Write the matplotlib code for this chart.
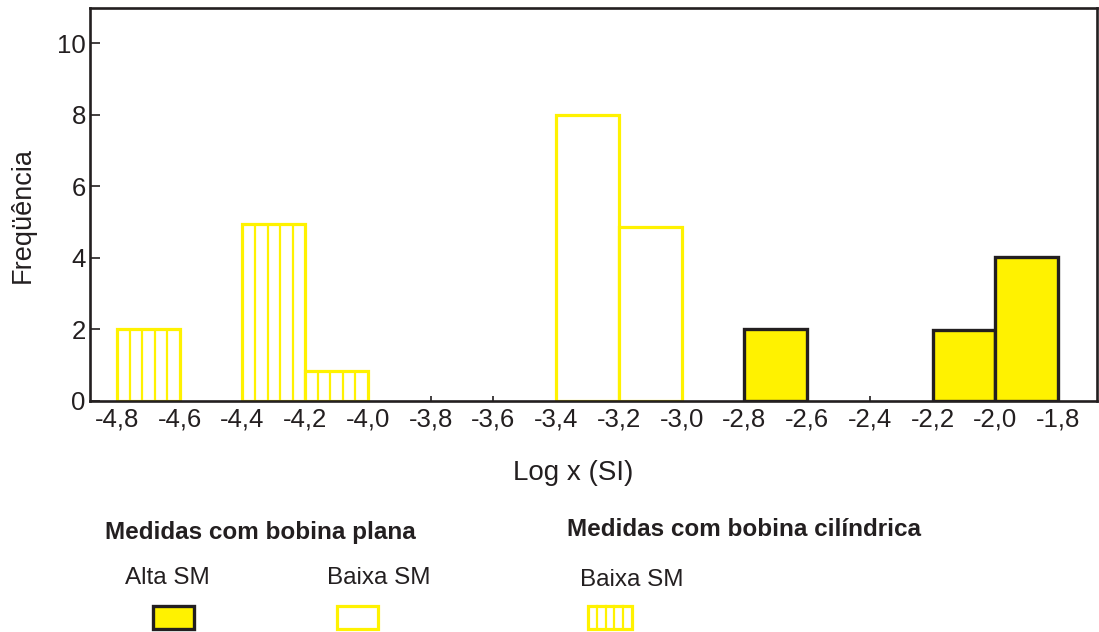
# %% Bibliotecas utilizadas ---------------------------------------

import numpy as np
import matplotlib
matplotlib.use('Agg')
import matplotlib.pyplot as plt
from matplotlib.patches import Rectangle
from matplotlib.lines import Line2D

# %% Dados lidos do histograma ---------------------------------------

largura_classe = 0.2

# bobina cilindrica - baixa SM (barras hachuradas)
cil_baixa_x = [-4.8, -4.4, -4.2]
cil_baixa_f = [2.0, 4.95, 0.85]

# bobina plana - baixa SM (barras vazadas)
plana_baixa_x = [-3.4, -3.2]
plana_baixa_f = [8.0, 4.87]

# bobina plana - alta SM (barras cheias)
plana_alta_x = [-2.8, -2.2, -2.0]
plana_alta_f = [2.02, 1.97, 4.03]

xticks_pos = [-4.8, -4.6, -4.4, -4.2, -4.0, -3.8, -3.6, -3.4,
              -3.2, -3.0, -2.8, -2.6, -2.4, -2.2, -2.0, -1.8]
xticks_txt = ['-4,8', '-4,6', '-4,4', '-4,2', '-4,0', '-3,8', '-3,6', '-3,4',
              '-3,2', '-3,0', '-2,8', '-2,6', '-2,4', '-2,2', '-2,0', '-1,8']
yticks_pos = [0, 2, 4, 6, 8, 10]

# %% Estilo ---------------------------------------

amarelo = '#FFF200'
escuro = '#231F20'
plt.rcParams['font.family'] = ['Liberation Sans', 'DejaVu Sans']

W, H = 1099, 632
fig = plt.figure(figsize=(W/100, H/100), dpi=100)
ax = fig.add_axes([90/W, 1-401/H, (1097-90)/W, (401-8)/H])

# %% Barras ---------------------------------------

# alta SM: preenchidas com borda escura
ax.bar(plana_alta_x, plana_alta_f, width=largura_classe, align='edge',
       color=amarelo, edgecolor=escuro, linewidth=2.4, zorder=3)

# baixa SM plana: so contorno amarelo
ax.bar(plana_baixa_x, plana_baixa_f, width=largura_classe, align='edge',
       facecolor='white', edgecolor=amarelo, linewidth=2.3, zorder=3)

# baixa SM cilindrica: contorno + listras verticais
ax.bar(cil_baixa_x, cil_baixa_f, width=largura_classe, align='edge',
       facecolor='white', edgecolor=amarelo, linewidth=2.3, zorder=3)
for x0, f in zip(cil_baixa_x, cil_baixa_f):
    for k in range(1, 5):
        ax.vlines(x0 + largura_classe*k/5, 0, f, color=amarelo,
                  linewidth=1.6, zorder=3)

# %% Eixos ---------------------------------------

ax.set_xlim(-4.886, -1.676)
ax.set_ylim(0, 10.98)
ax.set_xticks(xticks_pos)
ax.set_xticklabels(xticks_txt)
ax.set_yticks(yticks_pos)
ax.tick_params(axis='x', direction='in', length=3.5, width=1.2,
               color=escuro, labelsize=18.5, pad=5, labelcolor=escuro)
ax.tick_params(axis='y', direction='in', length=7, width=1.2,
               color=escuro, labelsize=18.5, pad=3, labelcolor=escuro)
for s in ax.spines.values():
    s.set_linewidth(1.9)
    s.set_color(escuro)
    s.set_zorder(4)

ax.set_xlabel('Log x (SI)', fontsize=20, color=escuro)
ax.xaxis.set_label_coords(573/W, 1-473/H, transform=fig.transFigure)
ax.xaxis.label.set_va('center')
ax.set_ylabel('Freqüência', fontsize=19.5, color=escuro)
ax.yaxis.set_label_coords(23/W, 1-215/H, transform=fig.transFigure)
ax.yaxis.label.set_va('center')

# %% Legenda montada a mao ---------------------------------------

fig.text(105/W, 1-532/H, 'Medidas com bobina plana', fontsize=17.5,
         fontweight='bold', color=escuro, va='center', ha='left')
fig.text(567/W, 1-530/H, 'Medidas com bobina cilíndrica', fontsize=17.5,
         fontweight='bold', color=escuro, va='center', ha='left')
fig.text(125/W, 1-578/H, 'Alta SM', fontsize=17.5, color=escuro,
         va='center', ha='left')
fig.text(327/W, 1-578/H, 'Baixa SM', fontsize=17.5, color=escuro,
         va='center', ha='left')
fig.text(580/W, 1-580/H, 'Baixa SM', fontsize=17.5, color=escuro,
         va='center', ha='left')

pw, ph = 41/W, 23/H
py = 1-629/H
fig.add_artist(Rectangle((153/W, py), pw, ph, transform=fig.transFigure,
                         facecolor=amarelo, edgecolor=escuro, linewidth=2.4))
fig.add_artist(Rectangle((337/W, py), pw, ph, transform=fig.transFigure,
                         facecolor='white', edgecolor=amarelo, linewidth=2.3))
fig.add_artist(Rectangle((588/W, py), 44/W, ph, transform=fig.transFigure,
                         facecolor='white', edgecolor=amarelo, linewidth=2.3))
for k in range(1, 5):
    xl = (588 + 44*k/5)/W
    fig.add_artist(Line2D([xl, xl], [py, py+ph], transform=fig.transFigure,
                          color=amarelo, linewidth=1.6))

fig.savefig('out.png', dpi=100)
